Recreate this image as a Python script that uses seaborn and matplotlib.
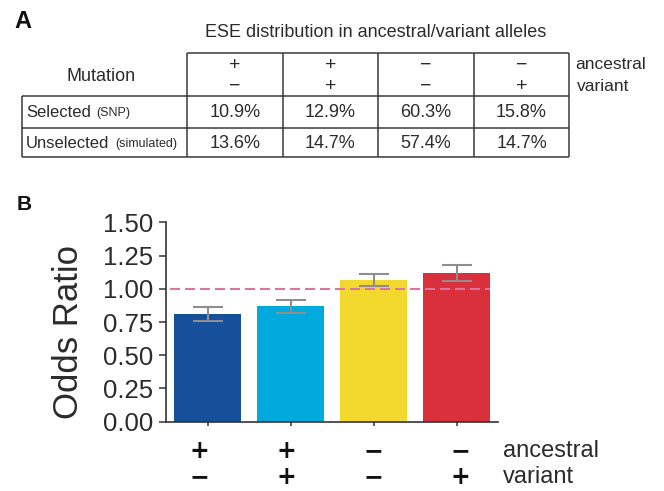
import matplotlib
matplotlib.use("Agg")
import matplotlib.pyplot as plt
import matplotlib.transforms as mtransforms
import seaborn as sns
import pandas as pd

# ---- Panel A: ESE distribution table ----
table_title = "ESE distribution in ancestral/variant alleles"
ancestral_signs = ["+", "+", "\u2212", "\u2212"]
variant_signs = ["\u2212", "+", "\u2212", "+"]
row_names = ["Selected", "Unselected"]
row_notes = ["(SNP)", "(simulated)"]
selected_pct = ["10.9%", "12.9%", "60.3%", "15.8%"]
unselected_pct = ["13.6%", "14.7%", "57.4%", "14.7%"]

# ---- Panel B: odds ratios ----
categories = ["+/\u2212", "+/+", "\u2212/\u2212", "\u2212/+"]
odds_ratio = [0.81, 0.87, 1.07, 1.12]
odds_err = [0.05, 0.05, 0.045, 0.06]
bar_colors = ["#17509a", "#00aadd", "#f3d92e", "#d9303c"]
y_ticks = [0.00, 0.25, 0.50, 0.75, 1.00, 1.25, 1.50]

sns.set_theme(style="ticks")
plt.rcParams["font.family"] = ["Liberation Sans", "DejaVu Sans"]
text_color = "#2b2b2b"

W, H = 664, 491
fig = plt.figure(figsize=(W / 100, H / 100), dpi=100)

# overlay in pixel units for the table and panel letters
ov = fig.add_axes([0, 0, 1, 1])
ov.set_xlim(0, W)
ov.set_ylim(H, 0)
ov.axis("off")

line_kw = dict(color="#3a3a3a", lw=1.1)
col_x = [187, 283, 378, 474, 569]
ov.hlines(53, col_x[0], col_x[-1], **line_kw)
for y in (96, 128, 157):
    ov.hlines(y, 22, col_x[-1], **line_kw)
for x in col_x:
    ov.vlines(x, 53, 157, **line_kw)
ov.vlines(22, 96, 157, **line_kw)

ov.text(23, 21, "A", fontsize=17, fontweight="bold", ha="center", va="center", color="#111")
ov.text(24, 204, "B", fontsize=15, fontweight="bold", ha="center", va="center", color="#111")
ov.text(376, 32, table_title, fontsize=13, ha="center", va="center", color=text_color)
ov.text(101, 76, "Mutation", fontsize=13, ha="center", va="center", color=text_color)
ov.text(575, 64, "ancestral", fontsize=12.5, ha="left", va="center", color=text_color)
ov.text(577, 86, "variant", fontsize=12.5, ha="left", va="center", color=text_color)

centers = [(col_x[i] + col_x[i + 1]) / 2 for i in range(4)]
for cx, a, v in zip(centers, ancestral_signs, variant_signs):
    ov.text(cx, 65, a, fontsize=14, ha="center", va="center", color=text_color)
    ov.text(cx, 86, v, fontsize=14, ha="center", va="center", color=text_color)

row_y = [112, 143]
note_x = [96, 115]
for y, name, note, nx in zip(row_y, row_names, row_notes, note_x):
    ov.text(26, y, name, fontsize=12, ha="left", va="center", color=text_color)
    ov.text(nx, y + 1, note, fontsize=9, ha="left", va="center", color=text_color)
for vals, y in ((selected_pct, row_y[0]), (unselected_pct, row_y[1])):
    for cx, s in zip(centers, vals):
        ov.text(cx, y, s, fontsize=13, ha="center", va="center", color=text_color)

# ---- bar chart ----
ax_l, ax_r, ax_b, ax_t = 166, 498, 421.7, 222.5
ax = fig.add_axes([ax_l / W, 1 - ax_b / H, (ax_r - ax_l) / W, (ax_b - ax_t) / H])
df = pd.DataFrame({"group": categories, "odds": odds_ratio})
sns.barplot(data=df, x="group", y="odds", hue="group", palette=bar_colors,
            width=0.8, saturation=1, legend=False, edgecolor="none", ax=ax, zorder=2)
ax.errorbar(range(len(categories)), odds_ratio, yerr=odds_err, fmt="none",
            ecolor="#8e8e8e", elinewidth=1.5, capsize=11, capthick=1.5, zorder=4)
ax.axhline(1.0, xmin=0.012, xmax=0.976, color="#dc74a0", lw=1.5,
           linestyle=(0, (4.8, 2.4)), zorder=5)

ax.set_xlim(-0.5, 3.5)
ax.set_ylim(0, 1.5)
ax.set_yticks(y_ticks)
ax.set_yticklabels([f"{t:.2f}" for t in y_ticks], fontsize=18.5, color=text_color)
ax.set_xticks(range(len(categories)))
ax.set_xticklabels([])
ax.set_xlabel("")
ax.set_ylabel("Odds Ratio", fontsize=25, color=text_color)
ax.yaxis.set_label_coords(-0.245, 0.448)
for side in ("top", "right"):
    ax.spines[side].set_visible(False)
for side in ("left", "bottom"):
    ax.spines[side].set_color("#333333")
    ax.spines[side].set_linewidth(1.2)
ax.tick_params(axis="y", length=5, width=1.1, pad=4, color="#333333")
ax.tick_params(axis="x", direction="inout", length=6, width=1.1, color="#333333")
ax.set_facecolor("none")

# allele signs under each bar
row1_y, row2_y = -0.147, -0.2776
trans = mtransforms.blended_transform_factory(ax.transData, ax.transAxes)
for i, (a, v) in enumerate(zip(ancestral_signs, variant_signs)):
    xs = -0.1 + i * 1.05
    ax.text(xs, row1_y, a, transform=trans, fontsize=17, fontweight="bold",
            family="DejaVu Sans", ha="center", va="center", color="#111")
    ax.text(xs, row2_y, v, transform=trans, fontsize=17, fontweight="bold",
            family="DejaVu Sans", ha="center", va="center", color="#111")
ax.text(1.015, row1_y, "ancestral", transform=ax.transAxes, fontsize=17,
        ha="left", va="center", color=text_color)
ax.text(1.015, row2_y, "variant", transform=ax.transAxes, fontsize=17,
        ha="left", va="center", color=text_color)

fig.savefig("out.png", dpi=100)
